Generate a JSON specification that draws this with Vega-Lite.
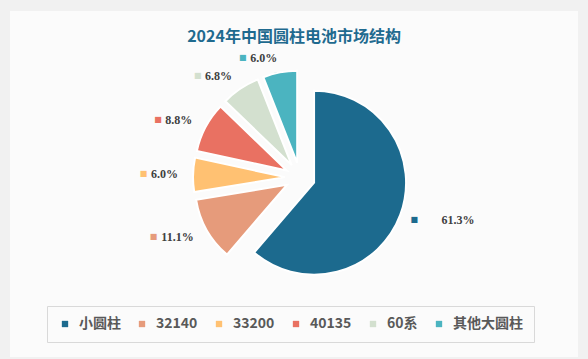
{
  "$schema": "https://vega.github.io/schema/vega-lite/v6.json",
  "width": 568,
  "height": 346,
  "autosize": {"type": "none"},
  "padding": {"left": 10, "top": 11, "right": 10, "bottom": 2},
  "background": "#f1f1f1",
  "view": {"fill": "#fbfbfb", "stroke": null},
  "title": {
    "text": "2024年中国圆柱电池市场结构",
    "fontSize": 16,
    "font": "Noto Sans CJK SC",
    "fontWeight": "bold",
    "color": "#1f6a8f",
    "offset": -34,
    "anchor": "middle"
  },
  "data": {
    "values": [
      {"category": "小圆柱", "share": 0.613, "rank": 1},
      {"category": "32140", "share": 0.111, "rank": 2},
      {"category": "33200", "share": 0.060, "rank": 3},
      {"category": "40135", "share": 0.088, "rank": 4},
      {"category": "60系", "share": 0.068, "rank": 5},
      {"category": "其他大圆柱", "share": 0.060, "rank": 6}
    ]
  },
  "encoding": {
    "theta": {"field": "share", "type": "quantitative", "stack": true},
    "order": {"field": "rank", "type": "quantitative"}
  },
  "layer": [
    {
      "mark": {
        "type": "arc",
        "outerRadius": 92,
        "stroke": "#ffffff",
        "strokeWidth": 2,
        "xOffset": {"expr": "6 + 15*sin(PI*(datum.share_start+datum.share_end))"},
        "yOffset": {"expr": "-6.5 - 15*cos(PI*(datum.share_start+datum.share_end))"}
      },
      "encoding": {
        "color": {
          "field": "category",
          "type": "nominal",
          "scale": {
            "domain": ["小圆柱", "32140", "33200", "40135", "60系", "其他大圆柱"],
            "range": ["#1c6a8e", "#e69b7b", "#ffc172", "#e97162", "#d3e0cf", "#4bb4c0"]
          },
          "legend": {
            "orient": "none",
            "legendX": 37,
            "legendY": 295,
            "direction": "horizontal",
            "title": null,
            "strokeColor": "#d9d9d9",
            "padding": 11,
            "symbolType": "square",
            "symbolSize": 40,
            "symbolStrokeWidth": 0,
            "labelFontSize": 14,
            "labelFont": "Noto Sans CJK SC",
            "labelColor": "#595959",
            "labelFontWeight": "bold",
            "columnPadding": 14,
            "labelOffset": 7
          }
        }
      }
    },
    {
      "mark": {
        "type": "text",
        "radius": 122,
        "text": "■",
        "fontSize": 8,
        "font": "DejaVu Sans",
        "baseline": "middle",
        "align": "center",
        "xOffset": 6,
        "yOffset": -6.5,
        "dx": {"expr": "datum.share_start + datum.share_end < 1 ? 0 : -(length(format(datum.share, '.1%'))*5.6 + 12)"}
      },
      "encoding": {
        "color": {"field": "category", "type": "nominal", "legend": null}
      }
    },
    {
      "mark": {
        "type": "text",
        "radius": 122,
        "fontSize": 12,
        "font": "Liberation Serif",
        "fontWeight": "bold",
        "color": "#404040",
        "baseline": "middle",
        "xOffset": 6,
        "yOffset": -6.5,
        "align": {"expr": "datum.share_start + datum.share_end < 1 ? 'left' : 'right'"},
        "dx": {"expr": "datum.share_start + datum.share_end < 1 ? 27 : 0"}
      },
      "encoding": {
        "text": {"field": "share", "type": "quantitative", "format": ".1%"}
      }
    }
  ]
}
